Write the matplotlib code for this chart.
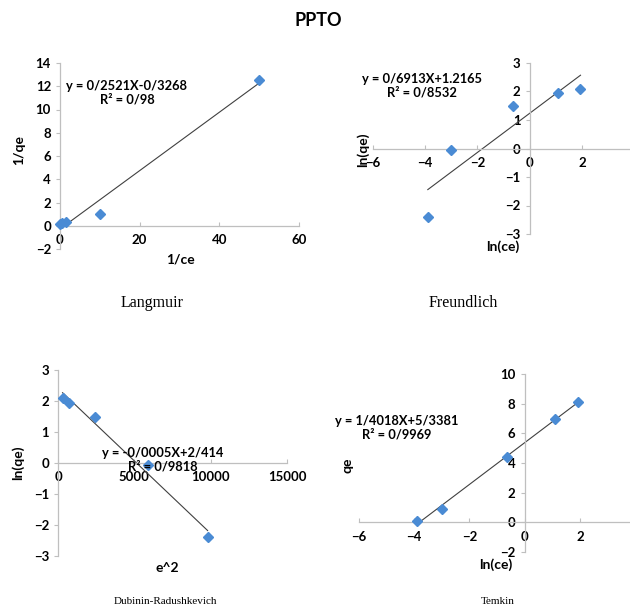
import numpy as np
import matplotlib.pyplot as plt

# data
lang_x = [0.1, 0.5, 1.5, 10, 50]          # 1/ce
lang_y = [0.15, 0.2, 0.3, 1.05, 12.5]     # 1/qe
freu_x = [-3.9, -3.0, -0.65, 1.1, 1.95]   # ln(ce)
freu_y = [-2.4, -0.05, 1.48, 1.95, 2.1]   # ln(qe)
dr_x = [300, 700, 2400, 5900, 9800]       # e^2
dr_y = [2.1, 1.95, 1.5, -0.05, -2.4]      # ln(qe)
tem_x = [-3.9, -3.0, -0.65, 1.1, 1.95]    # ln(ce)
tem_y = [0.1, 0.9, 4.4, 7.0, 8.1]         # qe

eq_text = ["y = 0/2521X-0/3268\nR\u00b2 = 0/98",
           "y = 0/6913X+1.2165\nR\u00b2 = 0/8532",
           "y = -0/0005X+2/414\nR\u00b2 = 0/9818",
           "y = 1/4018X+5/3381\nR\u00b2 = 0/9969"]

W, H = 630, 607
fig = plt.figure(figsize=(W / 100, H / 100), dpi=100)
plt.rcParams['font.family'] = ['Lato', 'DejaVu Sans']

PT_COL = '#4a8bd4'
AX_COL = '#bfbfbf'


def px(x, y):
    return x / W, 1 - y / H


def make_axes(x0, x1, y0, y1, xlim, ylim, xticks, yticks):
    ax = fig.add_axes([x0 / W, 1 - y1 / H, (x1 - x0) / W, (y1 - y0) / H])
    ax.set_xlim(*xlim)
    ax.set_ylim(*ylim)
    ax.set_xticks(xticks)
    ax.set_yticks(yticks)
    for s in ['top', 'right']:
        ax.spines[s].set_visible(False)
    ax.spines['left'].set_position(('data', 0))
    ax.spines['bottom'].set_position(('data', 0))
    for s in ['left', 'bottom']:
        ax.spines[s].set_color(AX_COL)
        ax.spines[s].set_linewidth(0.9)
    ax.tick_params(axis='both', colors=AX_COL, labelcolor='black',
                   labelsize=9.5, length=3, width=0.8)
    ax.tick_params(axis='x', direction='in', pad=6)
    for lab in ax.get_xticklabels() + ax.get_yticklabels():
        lab.set_fontweight('bold')
    ax.set_facecolor('none')
    return ax


def draw(ax, xs, ys):
    xs = np.array(xs)
    ys = np.array(ys)
    k, b = np.polyfit(xs, ys, 1)
    xx = np.array([xs.min(), xs.max()])
    ax.plot(xx, k * xx + b, color='#404040', lw=0.8, zorder=2)
    ax.plot(xs, ys, 'D', color=PT_COL, ms=4.8, zorder=3, clip_on=False)


def eq(x, y, s):
    fig.text(*px(x, y), s, ha='center', va='center', fontsize=9.3,
             fontweight='bold', linespacing=1.15)


def lab(x, y, s, rot=0):
    fig.text(*px(x, y), s, ha='center', va='center', fontsize=10,
             fontweight='bold', rotation=rot)


# Langmuir
ax1 = make_axes(60, 299, 63, 249, (0, 60), (-2, 14), [0, 20, 40, 60],
                range(-2, 15, 2))
draw(ax1, lang_x, lang_y)
eq(127, 93, eq_text[0])
lab(19, 150, '1/qe', 90)
lab(180, 260, '1/ce')

# Freundlich
ax2 = make_axes(373, 634, 63, 234, (-6, 4), (-3, 3), [-6, -4, -2, 0, 2],
                range(-3, 4))
draw(ax2, freu_x, freu_y)
eq(422, 86, eq_text[1])
lab(363, 150, 'ln(qe)', 90)
lab(503, 247, 'ln(ce)')

# Dubinin-Radushkevich
ax3 = make_axes(58, 287, 370, 556, (0, 15000), (-3, 3), [0, 5000, 10000, 15000],
                range(-3, 4))
draw(ax3, dr_x, dr_y)
eq(163, 460, eq_text[2])
lab(18, 463, 'ln(qe)', 90)
lab(167, 568, 'e^2')

# Temkin
ax4 = make_axes(359, 635, 374, 552, (-6, 4), (-2, 10), [-6, -4, -2, 0, 2],
                range(-2, 11, 2))
draw(ax4, tem_x, tem_y)
eq(397, 428, eq_text[3])
lab(348, 465, 'qe', 90)
lab(496, 565, 'ln(ce)')

# titles
fig.text(*px(318, 20), 'PPTO', ha='center', va='center', fontsize=13,
         fontweight='bold')
fig.text(*px(152, 303), 'Langmuir', ha='center', va='center', fontsize=11.5,
         family='Liberation Serif')
fig.text(*px(463, 303), 'Freundlich', ha='center', va='center', fontsize=11.5,
         family='Liberation Serif')
fig.text(*px(165, 601), 'Dubinin-Radushkevich', ha='center', va='center',
         fontsize=8, family='Liberation Serif')
fig.text(*px(498, 601), 'Temkin', ha='center', va='center', fontsize=8,
         family='Liberation Serif')

fig.savefig('out.png', dpi=100)
